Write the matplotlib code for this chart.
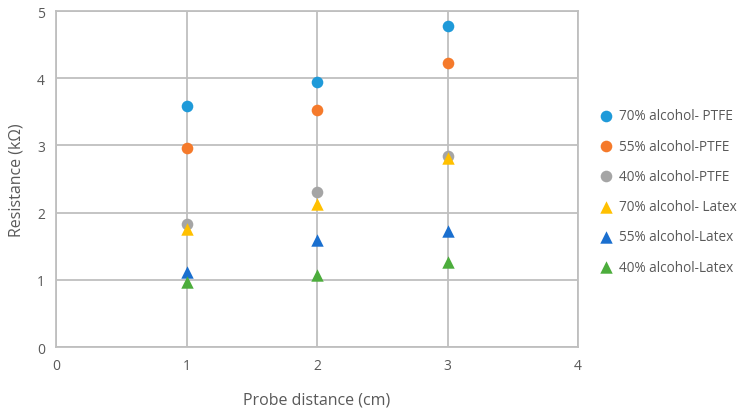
import matplotlib
matplotlib.use("Agg")
import matplotlib.pyplot as plt

x = [1, 2, 3]
series_names = ["70% alcohol- PTFE", "55% alcohol-PTFE", "40% alcohol-PTFE",
                "70% alcohol- Latex", "55% alcohol-Latex", "40% alcohol-Latex"]
ptfe_70 = [3.58, 3.95, 4.77]
ptfe_55 = [2.96, 3.52, 4.22]
ptfe_40 = [1.83, 2.30, 2.84]
latex_70 = [1.76, 2.13, 2.81]
latex_55 = [1.12, 1.59, 1.72]
latex_40 = [0.97, 1.07, 1.26]
values = [ptfe_70, ptfe_55, ptfe_40, latex_70, latex_55, latex_40]
colors = ["#1f9ad9", "#f57a2b", "#a5a5a5", "#ffc000", "#1a6fcf", "#4cad3c"]
markers = ["o", "o", "o", "^", "^", "^"]
xticks = [0, 1, 2, 3, 4]
yticks = [0, 1, 2, 3, 4, 5]

plt.rcParams['font.family'] = ['Open Sans', 'DejaVu Sans']

fig = plt.figure(figsize=(7.53, 4.14), dpi=100)
ax = fig.add_axes([0.0744, 0.1594, 0.6932, 0.8116])

grid_c = "#bfbfbf"
for nm, v, c, m in zip(series_names, values, colors, markers):
    ax.scatter(x, v, s=70 if m == "o" else 80, marker=m, color=c, label=nm, zorder=3, linewidths=0)

ax.set_xlim(0, 4)
ax.set_ylim(0, 5)
ax.set_xticks(xticks)
ax.set_yticks(yticks)
ax.grid(True, color=grid_c, linewidth=1.3)
ax.set_axisbelow(True)
for s in ax.spines.values():
    s.set_color(grid_c)
    s.set_linewidth(1.3)
ax.tick_params(length=0, colors="#595959", labelsize=10, pad=8)
ax.set_xlabel("Probe distance (cm)", fontsize=11.5, color="#595959", labelpad=13)
ax.set_ylabel("Resistance (kΩ)", fontsize=11.5, color="#595959", labelpad=9)

leg = fig.legend(loc="center left", bbox_to_anchor=(0.775, 0.535), frameon=False,
                 fontsize=9.8, labelspacing=1.12, handletextpad=0.2, handlelength=1.5,
                 labelcolor="#595959")
fig.savefig("out.png", dpi=100)
